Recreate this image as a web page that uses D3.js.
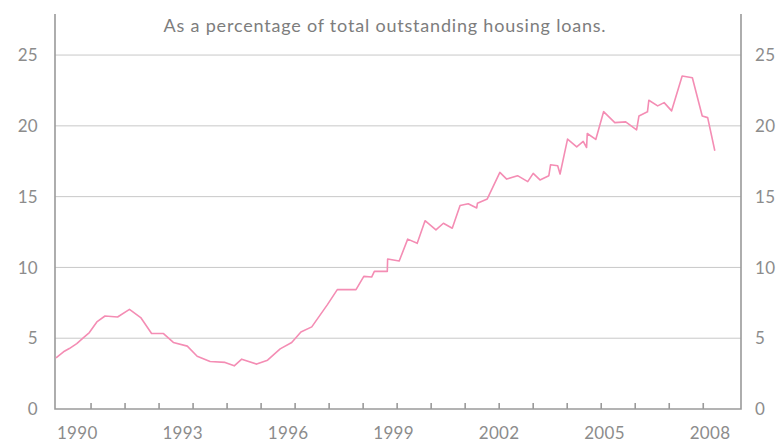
<!DOCTYPE html>
<html>
<head>
<meta charset="utf-8">
<script src="https://cdn.jsdelivr.net/npm/d3@7"></script>
<style>
  body { margin: 0; background: #fff; }
  svg { display: block; font-family: Lato, "Open Sans", sans-serif; }
  .grid line { stroke: #c8c8c8; stroke-width: 1; }
  .frame { stroke: #9a9a9a; stroke-width: 1.6; fill: none; }
  .lab { fill: #8c8c8c; font-size: 17px; letter-spacing: 0.3px; }
  .title { fill: #7d7d7d; font-size: 18px; letter-spacing: 0.8px; }
</style>
</head>
<body>
<div id="chart"></div>
<script>
// decimal years
var dates = [1988.97, 1989.19, 1989.36, 1989.58, 1989.77, 1989.95, 1990.17, 1990.41, 1990.78, 1991.13,
  1991.46, 1991.78, 1992.13, 1992.42, 1992.83, 1993.12, 1993.50, 1993.94, 1994.21, 1994.43,
  1994.87, 1995.19, 1995.56, 1995.90, 1996.17, 1996.49, 1996.95, 1997.24, 1997.79, 1998.02,
  1998.25, 1998.33, 1998.71, 1998.72, 1999.06, 1999.31, 1999.59, 1999.82, 2000.14, 2000.36,
  2000.62, 2000.85, 2001.09, 2001.34, 2001.36, 2001.65, 2002.02, 2002.22, 2002.54, 2002.84,
  2003.00, 2003.20, 2003.46, 2003.51, 2003.72, 2003.79, 2004.01, 2004.28, 2004.47, 2004.57,
  2004.59, 2004.84, 2005.07, 2005.40, 2005.72, 2006.04, 2006.11, 2006.36, 2006.40, 2006.66,
  2006.85, 2007.07, 2007.38, 2007.68, 2007.97, 2008.13, 2008.34];
var shares = [3.61, 4.04, 4.27, 4.62, 5.02, 5.40, 6.15, 6.57, 6.50, 7.04,
  6.46, 5.33, 5.33, 4.70, 4.44, 3.73, 3.36, 3.29, 3.05, 3.52,
  3.17, 3.45, 4.25, 4.70, 5.44, 5.80, 7.37, 8.43, 8.43, 9.37,
  9.32, 9.72, 9.72, 10.60, 10.45, 12.00, 11.70, 13.30, 12.65, 13.12,
  12.77, 14.37, 14.50, 14.20, 14.53, 14.84, 16.71, 16.24, 16.48, 16.06,
  16.64, 16.18, 16.48, 17.25, 17.18, 16.60, 19.06, 18.52, 18.90, 18.47,
  19.46, 19.04, 21.00, 20.23, 20.28, 19.72, 20.70, 20.99, 21.81, 21.41,
  21.64, 21.06, 23.52, 23.40, 20.70, 20.58, 18.24];

var yTicks = [0, 5, 10, 15, 20, 25];
var yearTicks = d3.range(1990, 2009);
var yearLabels = [1990, 1993, 1996, 1999, 2002, 2005, 2008];
var title = 'As a percentage of total outstanding housing loans.';

var W = 780, H = 442;
var margin = {top: 14, right: 39, bottom: 33, left: 55};

var svg = d3.select('#chart').append('svg')
    .attr('width', W)
    .attr('height', H);

var x = d3.scaleLinear()
    .domain([1988.94, 2009.11])
    .range([margin.left, W - margin.right]);

// year labels sit on a slightly wider spread than the ticks
var xLab = d3.scaleLinear()
    .domain(x.domain())
    .range([margin.left - 15, W - margin.right + 8]);

var y = d3.scaleLinear()
    .domain([0, 27.9])
    .range([H - margin.bottom, margin.top]);

// gridlines
svg.append('g')
    .attr('class', 'grid')
    .selectAll('line')
    .data(yTicks.filter(function(d) { return d > 0; }))
    .enter().append('line')
    .attr('x1', x.range()[0])
    .attr('x2', x.range()[1])
    .attr('y1', function(d) { return y(d); })
    .attr('y2', function(d) { return y(d); });

// y labels both sides
svg.append('g').selectAll('text')
    .data(yTicks)
    .enter().append('text')
    .attr('class', 'lab')
    .attr('x', x.range()[0] - 17)
    .attr('y', function(d) { return y(d); })
    .attr('dy', '0.36em')
    .attr('text-anchor', 'end')
    .text(function(d) { return d; });

svg.append('g').selectAll('text')
    .data(yTicks)
    .enter().append('text')
    .attr('class', 'lab')
    .attr('x', x.range()[1] + 14)
    .attr('y', function(d) { return y(d); })
    .attr('dy', '0.36em')
    .attr('text-anchor', 'start')
    .text(function(d) { return d; });

// year ticks, pointing up into the plot
svg.append('g').selectAll('line')
    .data(yearTicks)
    .enter().append('line')
    .attr('class', 'frame')
    .attr('x1', function(d) { return x(d); })
    .attr('x2', function(d) { return x(d); })
    .attr('y1', y(0))
    .attr('y2', y(0) - 6);

svg.append('g').selectAll('text')
    .data(yearLabels)
    .enter().append('text')
    .attr('class', 'lab')
    .attr('x', function(d) { return xLab(d); })
    .attr('y', y(0) + 24)
    .attr('dy', '0.36em')
    .attr('text-anchor', 'middle')
    .text(function(d) { return d; });

// frame: left axis, baseline, right axis
svg.append('path')
    .attr('class', 'frame')
    .attr('d', 'M' + x.range()[0] + ',' + y.range()[1] +
        'V' + y(0) + 'H' + x.range()[1] + 'V' + y.range()[1]);

svg.append('text')
    .attr('class', 'title')
    .attr('x', W / 2 - 5)
    .attr('y', 26)
    .attr('dy', '0.36em')
    .attr('text-anchor', 'middle')
    .text(title);

var line = d3.line()
    .x(function(d, i) { return x(dates[i]); })
    .y(function(d) { return y(d); });

svg.append('path')
    .datum(shares)
    .attr('fill', 'none')
    .attr('stroke', '#f48db4')
    .attr('stroke-width', 1.6)
    .attr('stroke-linejoin', 'round')
    .attr('d', line);
</script>
</body>
</html>
